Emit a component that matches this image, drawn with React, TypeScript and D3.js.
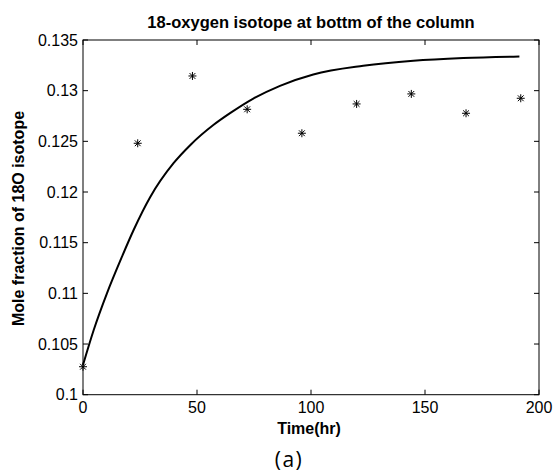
import React from "react";
import * as d3 from "d3";

const obsTime = [0, 24, 48, 72, 96, 120, 144, 168, 192];
const obsFrac = [0.10276, 0.12481, 0.13145, 0.12816, 0.1258, 0.12869, 0.12968, 0.12777, 0.12925];

const modelTime = [0, 4.7, 10.5, 17.1, 22.2, 29.5, 39.7, 47, 57.3, 64.5, 74.7, 86.4, 101, 122.9, 144.9, 166.8, 191.4];
const modelFrac = [0.10293, 0.10638, 0.11, 0.11362, 0.11625, 0.11951, 0.12284, 0.12462, 0.12663, 0.12778, 0.12922, 0.13048, 0.1316, 0.13245, 0.13295, 0.13322, 0.13338];

const xTicks = [0, 50, 100, 150, 200];
const yTicks = [0.1, 0.105, 0.11, 0.115, 0.12, 0.125, 0.13, 0.135];
const yTickLabels = ["0.1", "0.105", "0.11", "0.115", "0.12", "0.125", "0.13", "0.135"];

const W = 556, H = 473;
const L = 83, R = 539, T = 40, B = 394.7;

export default function App() {
  const x = d3.scaleLinear().domain([0, 200]).range([L, R]);
  const y = d3.scaleLinear().domain([0.1, 0.135]).range([B, T]);
  const line = d3
    .line<number>()
    .x((_, i) => x(modelTime[i]))
    .y((d) => y(d))
    .curve(d3.curveMonotoneX);
  const tl = 5;
  const font = "'Liberation Sans', Arial, sans-serif";
  const star = (cx: number, cy: number, k: number) => {
    const s = 4;
    const d = 2.9;
    return (
      <g key={k} stroke="#000" strokeWidth={1}>
        <line x1={cx - s} y1={cy} x2={cx + s} y2={cy} />
        <line x1={cx} y1={cy - s} x2={cx} y2={cy + s} />
        <line x1={cx - d} y1={cy - d} x2={cx + d} y2={cy + d} />
        <line x1={cx - d} y1={cy + d} x2={cx + d} y2={cy - d} />
      </g>
    );
  };
  return (
    <svg width={W} height={H} style={{ position: "absolute", left: 0, top: 0, background: "#fff" }}>
      <rect x={0} y={0} width={W} height={H} fill="#fff" />
      <text x={(L + R) / 2} y={28} textAnchor="middle" fontFamily={font} fontWeight="bold" fontSize={16.5}>
        18-oxygen isotope at bottm of the column
      </text>
      {xTicks.map((t) => (
        <g key={"x" + t}>
          <line x1={x(t)} x2={x(t)} y1={B} y2={B - tl} stroke="#000" />
          <line x1={x(t)} x2={x(t)} y1={T} y2={T + tl} stroke="#000" />
          <text x={x(t)} y={413} textAnchor="middle" fontFamily={font} fontSize={16}>
            {t}
          </text>
        </g>
      ))}
      {yTicks.map((v, i) => (
        <g key={"y" + i}>
          <line x1={L} x2={L + tl} y1={y(v)} y2={y(v)} stroke="#000" />
          <line x1={R} x2={R - tl} y1={y(v)} y2={y(v)} stroke="#000" />
          <text x={78} y={y(v) + 5.5} textAnchor="end" fontFamily={font} fontSize={16}>
            {yTickLabels[i]}
          </text>
        </g>
      ))}
      <rect x={L} y={T} width={R - L} height={B - T} fill="none" stroke="#000" strokeWidth={1} />
      <path d={line(modelFrac) || ""} fill="none" stroke="#000" strokeWidth={2} />
      {obsTime.map((t, i) => star(x(t), y(obsFrac[i]), i))}
      <text x={309} y={433.5} textAnchor="middle" fontFamily={font} fontWeight="bold" fontSize={16}>
        Time(hr)
      </text>
      <text
        transform={`translate(24,${218.5}) rotate(-90)`}
        textAnchor="middle"
        fontFamily={font}
        fontWeight="bold"
        fontSize={16}
      >
        Mole fraction of 18O isotope
      </text>
      <text
        x={289}
        y={467}
        textAnchor="middle"
        fontFamily="'Open Sans', 'Noto Sans', sans-serif"
        fontSize={21}
        letterSpacing={1.5}
      >
        (a)
      </text>
    </svg>
  );
}
